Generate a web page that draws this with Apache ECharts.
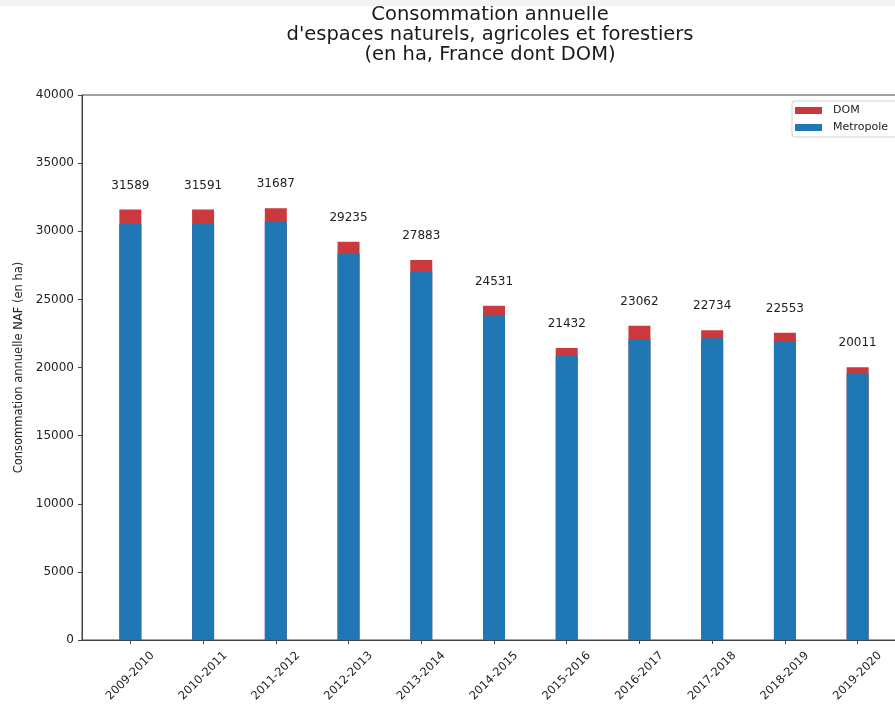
<!DOCTYPE html>
<html>
<head>
<meta charset="utf-8">
<script src="https://cdn.jsdelivr.net/npm/echarts@6/dist/echarts.min.js"></script>
<style>html,body{margin:0;padding:0;background:#fff;}#c{width:895px;height:704px;}</style>
</head>
<body>
<div id="c"></div>
<script>
const categories = ['2009-2010','2010-2011','2011-2012','2012-2013','2013-2014','2014-2015','2015-2016','2016-2017','2017-2018','2018-2019','2019-2020'];
const totals = [31589, 31591, 31687, 29235, 27883, 24531, 21432, 23062, 22734, 22553, 20011];
const metropole = [30530, 30530, 30680, 28330, 27080, 23850, 20840, 22070, 22140, 21940, 19570];

const idx = categories.map((c, i) => i);
const font = 'DejaVu Sans';
const chart = echarts.init(document.getElementById('c'));
chart.setOption({
  animation: false,
  backgroundColor: '#ffffff',
  textStyle: { fontFamily: font },
  title: {
    text: 'Consommation annuelle\nd\'espaces naturels, agricoles et forestiers\n(en ha, France dont DOM)',
    left: 490, top: 5, padding: 0, textAlign: 'center',
    textStyle: { fontFamily: font, fontSize: 19.5, fontWeight: 'normal', color: '#1a1a1a', lineHeight: 20 }
  },
  legend: {
    data: ['DOM', 'Metropole'],
    orient: 'vertical', left: 792, top: 101,
    icon: 'rect',
    itemWidth: 27, itemHeight: 7, itemGap: 6,
    padding: [4, 40, 4, 3],
    borderColor: '#d0d0d0', borderWidth: 1, borderRadius: 3,
    textStyle: { fontFamily: font, fontSize: 11, color: '#222', padding: [0, 0, 0, 6] }
  },
  grid: {
    left: 82, width: 824, top: 95, bottom: 64,
    outerBoundsMode: 'none', containLabel: false,
    show: true, borderColor: '#444', borderWidth: 1
  },
  xAxis: {
    type: 'value', min: -0.665, max: 10.665,
    splitLine: { show: false },
    axisLine: { lineStyle: { color: '#444' } },
    axisTick: { customValues: idx, length: 4, lineStyle: { color: '#444' } },
    axisLabel: {
      customValues: idx,
      formatter: v => categories[Math.round(v)],
      rotate: 45, align: 'center', verticalAlign: 'middle', margin: 36,
      fontFamily: font, fontSize: 11.5, color: '#222'
    }
  },
  yAxis: {
    type: 'value', min: 0, max: 40000, interval: 5000,
    name: 'Consommation annuelle NAF (en ha)',
    nameLocation: 'middle', nameGap: 47,
    nameTextStyle: { fontFamily: font, fontSize: 11.5, color: '#222' },
    splitLine: { show: false },
    axisLine: { show: true, onZero: false, lineStyle: { color: '#444' } },
    axisTick: { show: true, length: 4, lineStyle: { color: '#444' } },
    axisLabel: { fontFamily: font, fontSize: 12, color: '#222', margin: 8, formatter: v => String(v) }
  },
  series: [
    {
      name: 'DOM', type: 'bar', barWidth: 22, barGap: '-100%',
      itemStyle: { color: '#c9393d' },
      label: {
        show: true, position: 'top', distance: 18,
        formatter: p => String(totals[p.dataIndex]),
        fontFamily: font, fontSize: 12, color: '#222'
      },
      data: totals.map((v, i) => [i, v])
    },
    {
      name: 'Metropole', type: 'bar', barWidth: 22, barGap: '-100%',
      itemStyle: { color: '#1f77b4' },
      data: metropole.map((v, i) => [i, v])
    }
  ],
  graphic: [{
    type: 'rect', z: 100, left: 0, top: 0,
    shape: { width: 895, height: 6 },
    style: { fill: '#f3f3f3' }
  }]
});
</script>
</body>
</html>
